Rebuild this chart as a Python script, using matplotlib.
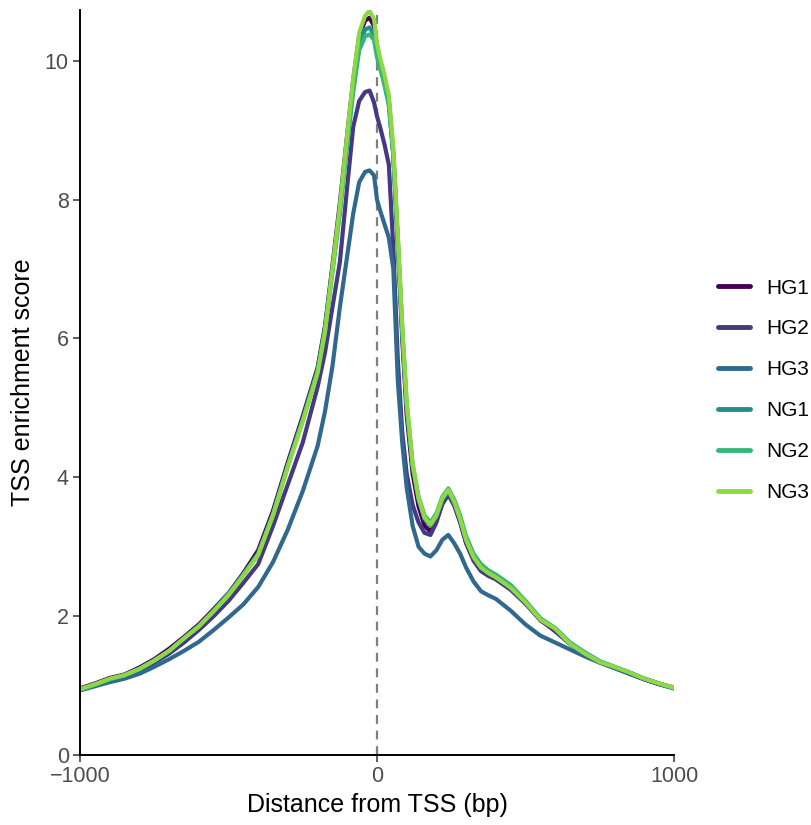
import matplotlib
matplotlib.use("Agg")
import matplotlib.pyplot as plt

plt.rcParams['font.family'] = ['Liberation Sans', 'DejaVu Sans']

positions = [-1000, -950, -900, -850, -800, -750, -700, -650, -600, -550, -500, -450, -400,
             -350, -300, -250, -200, -175, -150, -125, -100, -80, -60, -40, -25, -10, 0, 10,
             25, 40, 55, 70, 85, 100, 120, 140, 160, 180, 200, 220, 240, 260, 280, 300, 325,
             350, 375, 400, 450, 500, 550, 600, 650, 700, 750, 800, 850, 900, 950, 1000]

NG3 = [0.95, 1.02, 1.10, 1.15, 1.24, 1.36, 1.50, 1.68, 1.85, 2.07, 2.30, 2.58, 2.88,
       3.45, 4.15, 4.80, 5.50, 6.10, 7.00, 7.90, 8.95, 9.75, 10.40, 10.65, 10.72, 10.60, 10.25, 10.05,
       9.80, 9.50, 8.75, 7.50, 6.20, 5.10, 4.20, 3.70, 3.42, 3.32, 3.45, 3.70, 3.82, 3.65, 3.40, 3.10, 2.85,
       2.70, 2.62, 2.56, 2.41, 2.20, 1.95, 1.82, 1.60, 1.46, 1.34, 1.27, 1.19, 1.10, 1.03, 0.97]

NG2 = [0.94, 1.01, 1.09, 1.15, 1.24, 1.36, 1.50, 1.68, 1.86, 2.08, 2.32, 2.60, 2.90,
       3.47, 4.17, 4.82, 5.52, 6.10, 6.95, 7.80, 8.80, 9.55, 10.15, 10.35, 10.38, 10.30, 10.05, 9.90,
       9.65, 9.35, 8.65, 7.45, 6.15, 5.05, 4.18, 3.72, 3.45, 3.35, 3.48, 3.72, 3.84, 3.68, 3.45, 3.15, 2.90,
       2.75, 2.66, 2.60, 2.45, 2.22, 1.97, 1.83, 1.62, 1.48, 1.35, 1.27, 1.19, 1.10, 1.03, 0.96]

NG1 = [0.94, 1.01, 1.09, 1.15, 1.24, 1.36, 1.50, 1.68, 1.85, 2.07, 2.31, 2.59, 2.90,
       3.47, 4.18, 4.84, 5.55, 6.15, 7.00, 7.85, 8.85, 9.62, 10.22, 10.45, 10.48, 10.38, 10.10, 9.92,
       9.68, 9.38, 8.65, 7.40, 6.10, 5.00, 4.15, 3.68, 3.40, 3.30, 3.44, 3.68, 3.80, 3.64, 3.40, 3.10, 2.86,
       2.71, 2.63, 2.57, 2.42, 2.21, 1.96, 1.82, 1.61, 1.47, 1.35, 1.27, 1.19, 1.10, 1.03, 0.96]

HG1 = [0.96, 1.03, 1.11, 1.16, 1.26, 1.38, 1.53, 1.70, 1.88, 2.10, 2.33, 2.62, 2.95,
       3.52, 4.22, 4.88, 5.58, 6.18, 7.05, 7.95, 8.95, 9.72, 10.35, 10.58, 10.62, 10.50, 10.20, 9.98,
       9.72, 9.42, 8.65, 7.35, 6.00, 4.90, 4.05, 3.58, 3.30, 3.22, 3.38, 3.62, 3.76, 3.60, 3.36, 3.06, 2.82,
       2.68, 2.61, 2.55, 2.40, 2.19, 1.94, 1.80, 1.60, 1.46, 1.34, 1.26, 1.18, 1.09, 1.02, 0.96]

HG2 = [0.95, 1.02, 1.09, 1.14, 1.22, 1.33, 1.46, 1.62, 1.80, 2.00, 2.22, 2.48, 2.75,
       3.30, 3.90, 4.50, 5.30, 5.80, 6.45, 7.10, 8.20, 9.05, 9.42, 9.55, 9.57, 9.40, 9.20, 9.05,
       8.80, 8.50, 7.30, 5.70, 4.65, 4.05, 3.60, 3.35, 3.20, 3.17, 3.35, 3.62, 3.75, 3.60, 3.35, 3.05, 2.80,
       2.65, 2.58, 2.53, 2.38, 2.18, 1.95, 1.78, 1.60, 1.46, 1.34, 1.26, 1.17, 1.09, 1.02, 0.97]

HG3 = [0.93, 0.99, 1.05, 1.10, 1.17, 1.27, 1.38, 1.50, 1.63, 1.80, 1.98, 2.17, 2.42,
       2.78, 3.25, 3.80, 4.45, 4.95, 5.60, 6.45, 7.20, 7.80, 8.25, 8.40, 8.42, 8.35, 8.00, 7.85,
       7.65, 7.45, 7.00, 5.40, 4.50, 3.85, 3.30, 3.00, 2.90, 2.86, 2.95, 3.10, 3.17, 3.05, 2.90, 2.70, 2.50,
       2.36, 2.30, 2.25, 2.08, 1.88, 1.72, 1.62, 1.52, 1.42, 1.33, 1.25, 1.17, 1.10, 1.03, 0.97]

samples = ["HG1", "HG2", "HG3", "NG1", "NG2", "NG3"]
series = [HG1, HG2, HG3, NG1, NG2, NG3]
colors = ["#440154", "#443983", "#31688E", "#21908C", "#35B779", "#8FD744"]

fig = plt.figure(figsize=(8.11, 8.25), dpi=100)
ax = fig.add_axes([0.0986, 0.0848, 0.7325, 0.9030])

ax.axvline(0, color="#7F7F7F", linestyle=(0, (4, 3)), linewidth=1.6, zorder=1)
for name, vals, c in zip(samples, series, colors):
    ax.plot(positions, vals, color=c, linewidth=3.0, label=name, zorder=2,
            solid_joinstyle="round", solid_capstyle="round")

ax.set_xlim(-1000, 1000)
ax.set_ylim(0, 10.73)
ax.set_xticks([-1000, 0, 1000])
ax.set_yticks([0, 2, 4, 6, 8, 10])
for s in ["top", "right"]:
    ax.spines[s].set_visible(False)
for s in ["left", "bottom"]:
    ax.spines[s].set_linewidth(1.4)
    ax.spines[s].set_color("black")
ax.tick_params(axis="both", direction="out", length=5, width=1.1, color="#333333",
               labelsize=15.5, labelcolor="#4D4D4D", pad=3)
ax.set_xlabel("Distance from TSS (bp)", fontsize=18, color="black", labelpad=4)
ax.set_ylabel("TSS enrichment score", fontsize=18, color="black", labelpad=7)

leg = fig.legend(loc="center left", bbox_to_anchor=(0.872, 0.527), frameon=False,
                 fontsize=15, handlelength=1.55, handletextpad=0.8, labelspacing=1.05,
                 borderpad=0)
for line in leg.get_lines():
    line.set_linewidth(3.5)

fig.savefig("out.png", dpi=100)
